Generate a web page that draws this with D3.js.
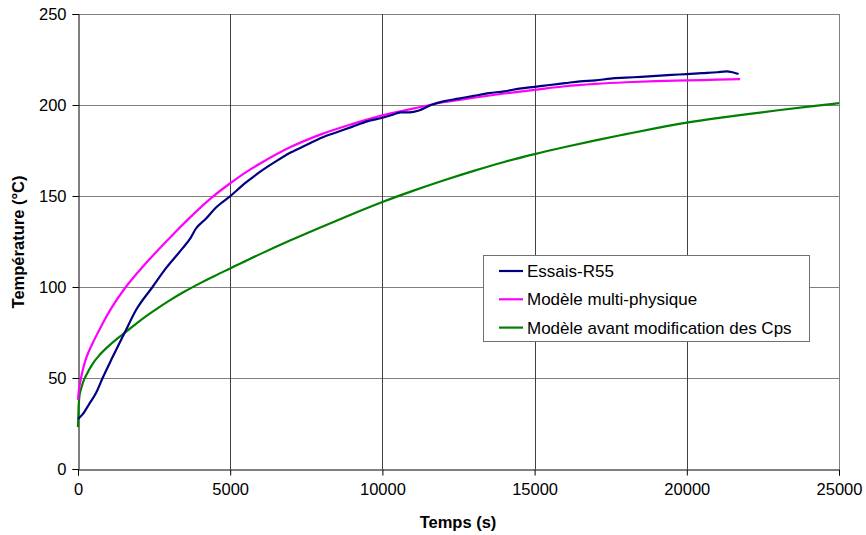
<!DOCTYPE html>
<html><head><meta charset="utf-8">
<script src="https://cdn.jsdelivr.net/npm/d3@7"></script>
<style>body{margin:0;background:#fff;}svg{display:block;font-family:"Liberation Sans",Arial,sans-serif;}</style>
</head><body><div id="chart"></div>
<script>
// Data
const xTicks = [0, 5000, 10000, 15000, 20000, 25000];
const yTicks = [0, 50, 100, 150, 200, 250];
const seriesNames = ["Essais-R55", "Modèle multi-physique", "Modèle avant modification des Cps"];
const seriesColors = ["#000080", "#FF00FF", "#008000"];

const essaisT = [0,150,372,600,809,1137,1519,1902,2448,2885,3432,3700,3870,4200,4525,5006,5509,6000,6500,7000,7500,8000,8500,9000,9500,10000,10300,10600,10900,11200,11600,12000,12500,13000,13500,14000,14500,15000,15500,16000,16500,17000,17500,18000,18500,19000,19500,20000,20500,21000,21300,21500,21700];
const essaisV = [27.5,30,35.8,42,50,61.5,74.4,87.2,100,110.2,121.2,127,132,137.5,143.5,150,157.3,163.5,169,174,178,182,185,188,191,193,194.5,196,196,197,200,202,203.5,205,206.5,207.5,209,210,211,212,213,213.5,214.5,215,215.5,216,216.5,217,217.5,218,218.5,218,217];

const multiT = [0,20,44,100,150,250,370,550,810,1100,1570,2120,2670,3210,3760,4420,5000,5510,6000,7000,8000,9000,10000,11000,12000,13000,14000,15000,16000,17000,18000,19000,20000,21000,21750];
const multiV = [38,42,45,50,54,60,65.2,71.5,80,88.5,100,111,121,130.4,139.5,149.5,157,163,168,177,184,189.5,194.3,198,201.5,204,206.3,208.3,210.3,211.6,212.5,213.1,213.5,213.9,214.2];

const avantT = [0,20,44,100,153,300,481,700,1027,1300,1574,2000,2500,3000,3500,4000,4500,5000,6000,7000,8000,9000,10000,11000,12000,13000,14000,15000,16000,17000,18000,19000,20000,21000,22000,23000,24000,25000];
const avantV = [23,34,39.5,44,47,52.5,57.8,62.5,67.9,71.8,75.3,81,87,92.5,97.5,102,106.2,110.2,118.2,125.8,133,140,146.7,152.8,158.5,163.8,168.7,173,176.9,180.6,184,187.3,190.3,192.8,195,197.1,199.1,201];

const W = 866, H = 535;
const margin = {left: 78, right: 27, top: 14, bottom: 66};
const svg = d3.select("#chart").append("svg").attr("width", W).attr("height", H);

const x = d3.scaleLinear().domain([0, 25000]).range([margin.left, W - margin.right]);
const y = d3.scaleLinear().domain([0, 250]).range([H - margin.bottom, margin.top]);

// horizontal grid
svg.append("g").selectAll("line").data(yTicks.filter(d => d > 0)).join("line")
  .attr("x1", x(0)).attr("x2", x(25000))
  .attr("y1", d => y(d) + 0.5).attr("y2", d => y(d) + 0.5)
  .attr("stroke", "#808080").attr("stroke-width", 1);
// vertical grid
svg.append("g").selectAll("line").data(xTicks.filter(d => d > 0)).join("line")
  .attr("x1", d => Math.round(x(d)) + 0.5).attr("x2", d => Math.round(x(d)) + 0.5)
  .attr("y1", y(250)).attr("y2", y(0))
  .attr("stroke", d => d === 25000 ? "#808080" : "#404040").attr("stroke-width", 1);

// axes
const xAxis = svg.append("g").attr("transform", `translate(0,${y(0) + 0.5})`)
  .call(d3.axisBottom(x).tickValues(xTicks).tickFormat(d3.format("d")).tickSize(6).tickPadding(8));
const yAxis = svg.append("g").attr("transform", `translate(${x(0) + 0.5},0)`)
  .call(d3.axisLeft(y).tickValues(yTicks).tickSize(6).tickPadding(6));
[xAxis, yAxis].forEach(g => {
  g.select(".domain").attr("stroke", "#000");
  g.selectAll(".tick line").attr("stroke", "#000");
  g.selectAll(".tick text").attr("fill", "#000").style("font-size", "16.5px").style("font-family", "Liberation Sans, Arial, sans-serif");
});
xAxis.attr("font-size", null); yAxis.attr("font-size", null);

// lines
const line = d3.line().x(d => x(d[0])).y(d => y(d[1])).curve(d3.curveMonotoneX);
const series = [
  d3.zip(avantT, avantV),
  d3.zip(multiT, multiV),
  d3.zip(essaisT, essaisV)
];
const seriesCol = [seriesColors[2], seriesColors[1], seriesColors[0]];
series.forEach((s, i) => {
  svg.append("path").datum(s).attr("d", line)
    .attr("fill", "none").attr("stroke", seriesCol[i]).attr("stroke-width", 2.2)
    .attr("stroke-linejoin", "round");
});

// axis titles
svg.append("text").attr("x", 458).attr("y", 528).attr("text-anchor", "middle")
  .style("font-size", "16.5px").style("font-weight", "bold").text("Temps (s)");
svg.append("text").attr("transform", "translate(24,242) rotate(-90)").attr("text-anchor", "middle")
  .style("font-size", "16.5px").style("font-weight", "bold").text("Température (°C)");

// legend
const lg = svg.append("g");
lg.append("rect").attr("x", 483.5).attr("y", 255.5).attr("width", 326).attr("height", 86)
  .attr("fill", "#fff").attr("stroke", "#707070").attr("stroke-width", 1);
seriesNames.forEach((n, i) => {
  const yy = 271 + i * 28.3;
  lg.append("line").attr("x1", 499).attr("x2", 523).attr("y1", yy).attr("y2", yy)
    .attr("stroke", seriesColors[i]).attr("stroke-width", 2.2);
  lg.append("text").attr("x", 527).attr("y", yy + 6).style("font-size", "17px").text(n);
});
</script></body></html>
